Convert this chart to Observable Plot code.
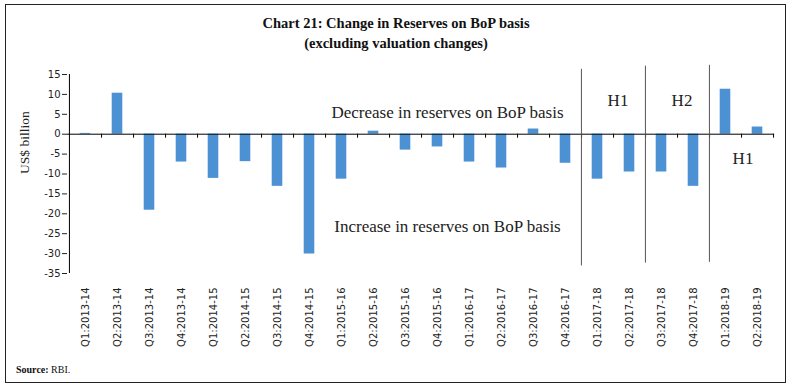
<!DOCTYPE html>
<html><head><meta charset="utf-8">
<script src="https://cdn.jsdelivr.net/npm/d3@7"></script>
<script src="https://cdn.jsdelivr.net/npm/@observablehq/plot@0.6"></script>
<style>
body{margin:0;background:#fff;}
#wrap{position:relative;width:792px;height:387px;overflow:hidden}
#border{position:absolute;left:5px;top:4px;width:781px;height:379px;border:1px solid #222;box-sizing:border-box}
#title{position:absolute;top:14px;left:0;width:792px;text-align:center;font:bold 14.5px "Liberation Serif";line-height:19.5px;color:#111}
#chart{position:absolute;left:0;top:58px}
#source{position:absolute;left:16px;top:364px;font:10px "Liberation Serif";color:#111}
</style></head>
<body>
<div id="wrap">
<div id="border"></div>
<div id="title">Chart 21: Change in Reserves on BoP basis<br>(excluding valuation changes)</div>
<div id="chart"></div>
<div id="source"><b>Source:</b> RBI.</div>
</div>
<script>
const categories = ["Q1:2013-14","Q2:2013-14","Q3:2013-14","Q4:2013-14","Q1:2014-15","Q2:2014-15","Q3:2014-15","Q4:2014-15","Q1:2015-16","Q2:2015-16","Q3:2015-16","Q4:2015-16","Q1:2016-17","Q2:2016-17","Q3:2016-17","Q4:2016-17","Q1:2017-18","Q2:2017-18","Q3:2017-18","Q4:2017-18","Q1:2018-19","Q2:2018-19"];
const values = [0.2, 10.3, -19.1, -7.0, -11.1, -6.9, -13.1, -30.1, -11.3, 0.75, -4.0, -3.2, -7.0, -8.5, 1.3, -7.3, -11.3, -9.5, -9.5, -13.1, 11.3, 1.8];
const yTicks = [15, 10, 5, 0, -5, -10, -15, -20, -25, -30, -35];
const dividers = ["Q1:2017-18", "Q3:2017-18", "Q1:2018-19"];
const dividerTop = [16.3, 17.1, 17.3];
const dividerBottom = [-33.1, -32.4, -32.2];

const data = categories.map((c, i) => ({cat: c, value: values[i]}));
const divData = dividers.map((c, i) => ({cat: c, top: dividerTop[i], bottom: dividerBottom[i]}));

const W = 792, mL = 67, mR = 18;
const step = (W - mL - mR) / categories.length;
const serif = "Liberation Serif";

const chart = Plot.plot({
  width: W,
  height: 297,
  marginLeft: mL,
  marginRight: mR,
  marginTop: 16,
  marginBottom: 82,
  style: {fontFamily: "DejaVu Sans", fontSize: "10px", background: "transparent", color: "#222"},
  x: {type: "band", domain: categories, padding: 0},
  y: {domain: [-35, 15]},
  marks: [
    Plot.barY(data, {x: "cat", y: "value", fill: "#4b91d3", insetLeft: 10.7, insetRight: 10.7}),
    Plot.ruleY([0], {stroke: "#000", strokeWidth: 1}),
    Plot.ruleX(categories, {x: d => d, dx: step / 2, y1: 0, y2: -1, stroke: "#000"}),
    Plot.ruleX([categories[0]], {x: d => d, dx: -step / 2, y1: -35, y2: 15, stroke: "#000"}),
    Plot.ruleX(divData, {x: "cat", dx: -step / 2, y1: "bottom", y2: "top", stroke: "#555", strokeWidth: 1}),
    Plot.axisY({ticks: yTicks, tickSize: 5, tickPadding: 2, tickFormat: d => String(d), label: null, fontSize: 10}),
    Plot.axisX({anchor: "bottom", tickSize: 0, tickRotate: -90, tickPadding: 14, label: null, fontSize: 10}),
    Plot.text(["US$ billion"], {frameAnchor: "left", rotate: -90, dx: -43, fontFamily: serif, fontSize: 13.5, fill: "#222"}),
    Plot.text(["Decrease in reserves on BoP basis"], {x: () => "Q4:2015-16", y: () => 5.5, dx: 10, fontFamily: serif, fontSize: 17, fill: "#222"}),
    Plot.text(["Increase in reserves on BoP basis"], {x: () => "Q4:2015-16", y: () => -23.1, dx: 10, fontFamily: serif, fontSize: 17, fill: "#222"}),
    Plot.text(["H1"], {x: () => "Q1:2017-18", y: () => 8.5, dx: 20.5, fontFamily: serif, fontSize: 17, fill: "#222"}),
    Plot.text(["H2"], {x: () => "Q3:2017-18", y: () => 8.5, dx: 20.5, fontFamily: serif, fontSize: 17, fill: "#222"}),
    Plot.text(["H1"], {x: () => "Q1:2018-19", y: () => -6, dx: 17.5, fontFamily: serif, fontSize: 17, fill: "#222"})
  ]
});
document.getElementById("chart").appendChild(chart);
</script>
</body></html>
